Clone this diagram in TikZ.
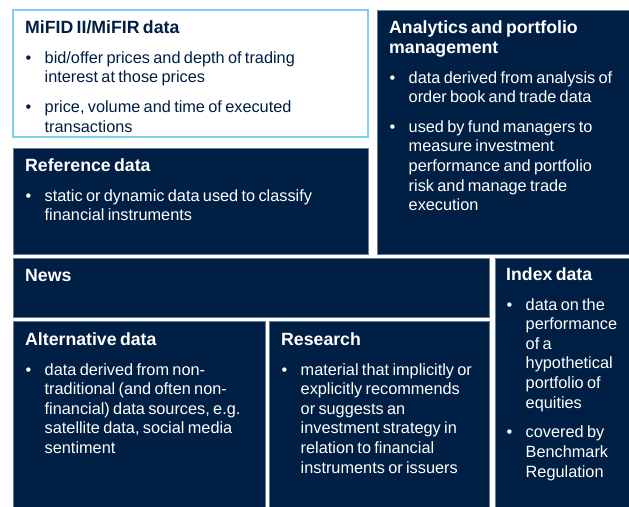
\documentclass[tikz,border=0pt]{standalone}
\usepackage{fontspec}
\setmainfont{Liberation Sans}
\definecolor{navy}{RGB}{0,31,68}
\definecolor{lblue}{RGB}{128,206,242}
\definecolor{navyedge}{RGB}{105,125,155}
\newcommand{\bxttl}[1]{\fontsize{17.7pt}{20pt}\selectfont\bfseries\rule{0pt}{13pt}#1\par}
\newcommand{\bxitm}[1]{\vspace{10.2pt}\fontsize{16.3pt}{19.6pt}\selectfont\mdseries\noindent\makebox[19.5pt][l]{\hspace{0.5pt}•}\parbox[t]{\dimexpr\linewidth-19.5pt\relax}{\fontsize{16.3pt}{19.6pt}\selectfont\raggedright #1\par\xdef\bxdp{\the\prevdepth}}\par\prevdepth=\bxdp\relax}
\tikzset{
  darkbox/.style={rectangle, fill=navy, draw=navyedge, line width=0.7pt, anchor=north west, inner sep=0pt, outer sep=0pt},
  lightbox/.style={rectangle, fill=white, draw=lblue, line width=1.4pt, anchor=north west, inner sep=0pt, outer sep=0pt},
  boxtext/.style={anchor=north west, inner sep=0pt, align=left, text width=#1},
  darktext/.style={boxtext=#1, text=white},
  lighttext/.style={boxtext=#1, text=navy},
}
\begin{document}
\begin{tikzpicture}[x=1pt,y=-1pt]
\useasboundingbox (0,0) rectangle (629,506);
% boxes
\node[lightbox, minimum width=355pt, minimum height=127pt] (mifid) at (13,10) {};
\node[darkbox, minimum width=355pt, minimum height=106pt] (ref) at (13,148) {};
\node[darkbox, minimum width=255pt, minimum height=244pt] (anal) at (377,10) {};
\node[darkbox, minimum width=476pt, minimum height=59pt] (news) at (13,258) {};
\node[darkbox, minimum width=137pt, minimum height=252pt] (index) at (495,258) {};
\node[darkbox, minimum width=252pt, minimum height=189pt] (alt) at (13,321) {};
\node[darkbox, minimum width=220pt, minimum height=189pt] (res) at (269,321) {};
% texts
\node[lighttext=340pt] (mifidT) at ([shift={(12,10)}]mifid.north west) {%
\bxttl{MiFID II/MiFIR data}
\bxitm{bid/offer prices and depth of trading\\interest at those prices}
\bxitm{price, volume and time of executed\\transactions}};
\node[darktext=340pt] (refT) at ([shift={(12,10)}]ref.north west) {%
\bxttl{Reference data}
\bxitm{static or dynamic data used to classify\\financial instruments}};
\node[darktext=238pt] (analT) at ([shift={(12,10)}]anal.north west) {%
\bxttl{Analytics and portfolio\\management}
\bxitm{data derived from analysis of\\order book and trade data}
\bxitm{used by fund managers to\\measure investment\\performance and portfolio\\risk and manage trade\\execution}};
\node[darktext=300pt] (newsT) at ([shift={(12,10)}]news.north west) {%
\bxttl{News}};
\node[darktext=125pt] (indexT) at ([shift={(11,9)}]index.north west) {%
\bxttl{Index data}
\bxitm{data on the\\performance\\of a\\hypothetical\\portfolio of\\equities}
\bxitm{covered by\\Benchmark\\Regulation}};
\node[darktext=245pt] (altT) at ([shift={(12,11)}]alt.north west) {%
\bxttl{Alternative data}
\bxitm{data derived from non-\\traditional (and often non-\\financial) data sources, e.g.\\satellite data, social media\\sentiment}};
\node[darktext=210pt] (resT) at ([shift={(12,11)}]res.north west) {%
\bxttl{Research}
\bxitm{material that implicitly or\\explicitly recommends\\or suggests an\\investment strategy in\\relation to financial\\instruments or issuers}};
\end{tikzpicture}
\end{document}
